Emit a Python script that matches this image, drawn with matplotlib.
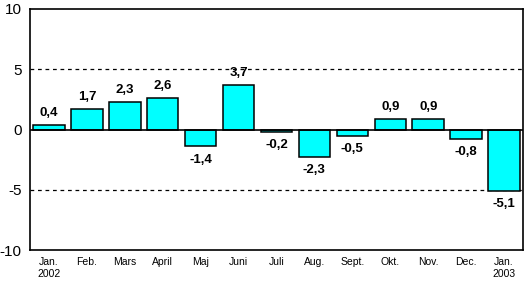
import matplotlib
matplotlib.use("Agg")
import matplotlib.pyplot as plt

categories = ["Jan.\n2002", "Feb.", "Mars", "April", "Maj", "Juni", "Juli", "Aug.",
              "Sept.", "Okt.", "Nov.", "Dec.", "Jan.\n2003"]
values = [0.4, 1.7, 2.3, 2.6, -1.4, 3.7, -0.2, -2.3, -0.5, 0.9, 0.9, -0.8, -5.1]
yticks = [-10, -5, 0, 5, 10]

fig = plt.figure(figsize=(5.24, 2.83), dpi=100)
ax = fig.add_axes([30/524, 1 - 250/283, 493/524, 241/283])
x = list(range(len(values)))
ax.bar(x, values, width=0.83, color="#00FFFF", edgecolor="black", linewidth=1.1, zorder=3)
ax.set_xlim(-0.5, len(values) - 0.5)
ax.set_ylim(-10, 10)
ax.set_yticks(yticks)
ax.set_yticklabels([str(t) for t in yticks], fontsize=11, family="Liberation Sans")
ax.set_xticks(x)
ax.set_xticklabels(categories, fontsize=7.5, family="Liberation Sans")
ax.tick_params(axis="both", length=0, pad=5)
ax.tick_params(axis="y", pad=6)
for s in ax.spines.values():
    s.set_linewidth(1.2)
for g in (5, -5):
    ax.axhline(g, color="black", linestyle=(0, (3, 3)), linewidth=0.9, zorder=1)
ax.axhline(0, color="black", linewidth=1.2, zorder=4)
for xi, v in zip(x, values):
    lab = f"{v:.1f}".replace(".", ",")
    if v >= 0:
        ax.text(xi, v + 0.5, lab, ha="center", va="bottom", fontsize=9.5, fontweight="bold",
                family="Liberation Sans")
    else:
        ax.text(xi, v - 0.6, lab, ha="center", va="top", fontsize=9.5, fontweight="bold",
                family="Liberation Sans")
fig.savefig("out.png", dpi=100)
